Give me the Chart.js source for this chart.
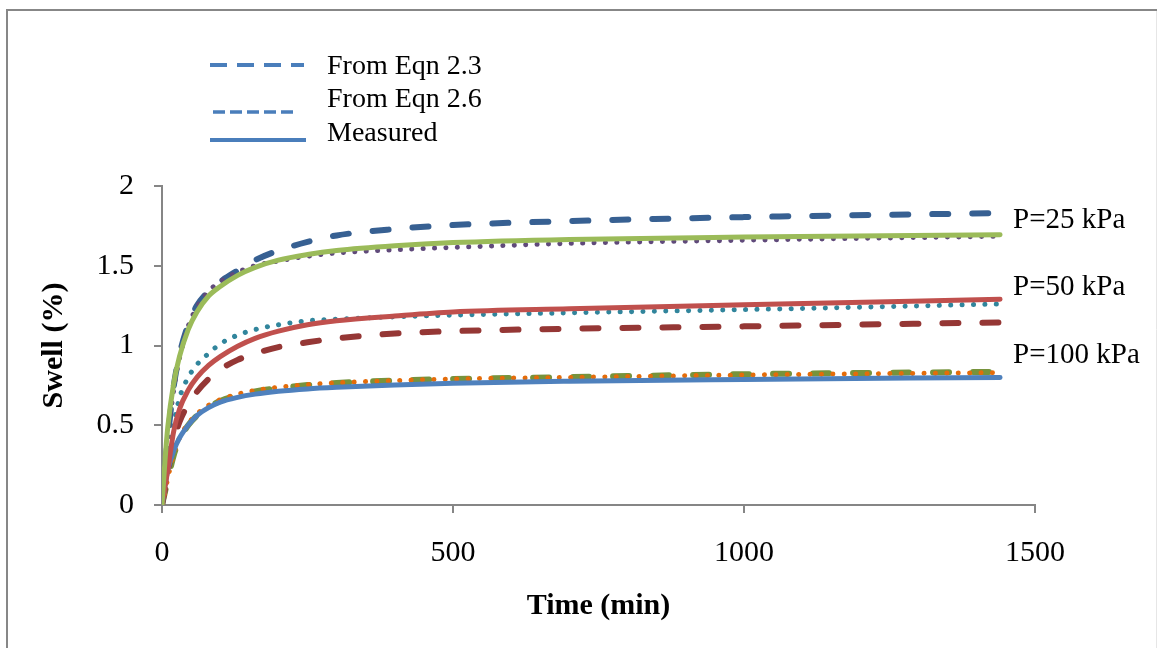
<!DOCTYPE html>
<html>
<head>
<meta charset="utf-8">
<script src="https://cdn.jsdelivr.net/npm/chart.js@4/dist/chart.umd.min.js"></script>
<style>
  html, body { margin: 0; padding: 0; background: #fff; }
  #wrap { position: relative; width: 1157px; height: 648px; }
</style>
</head>
<body>
<div id="wrap"><canvas id="c" width="1157" height="648"></canvas></div>
<script>
// ---- data ----
const times = [0, 5, 10, 20, 30, 45, 60, 80, 100, 130, 160, 200, 250, 300, 400, 500, 700, 1000, 1440];

const eqn23_P25  = [0, 0.22, 0.42, 0.74, 0.94, 1.13, 1.25, 1.34, 1.40, 1.47, 1.535, 1.595, 1.65, 1.69, 1.73, 1.755, 1.78, 1.805, 1.83];
const eqn26_P25  = [0, 0.22, 0.42, 0.72, 0.92, 1.12, 1.24, 1.34, 1.40, 1.46, 1.50, 1.53, 1.56, 1.58, 1.60, 1.615, 1.64, 1.66, 1.685];
const meas_P25   = [0, 0.27, 0.49, 0.76, 0.93, 1.10, 1.21, 1.31, 1.37, 1.44, 1.49, 1.535, 1.57, 1.595, 1.625, 1.645, 1.665, 1.68, 1.695];

const eqn23_P50  = [0, 0.10, 0.20, 0.40, 0.52, 0.63, 0.71, 0.79, 0.85, 0.91, 0.95, 0.99, 1.02, 1.045, 1.075, 1.09, 1.105, 1.12, 1.145];
const eqn26_P50  = [0, 0.12, 0.25, 0.50, 0.67, 0.80, 0.88, 0.95, 1.01, 1.065, 1.10, 1.13, 1.155, 1.165, 1.18, 1.19, 1.205, 1.225, 1.26];
const meas_P50   = [0, 0.11, 0.22, 0.46, 0.60, 0.72, 0.80, 0.875, 0.93, 0.995, 1.045, 1.09, 1.13, 1.155, 1.185, 1.21, 1.23, 1.255, 1.29];

const eqn23_P100 = [0, 0.08, 0.16, 0.31, 0.41, 0.50, 0.56, 0.615, 0.652, 0.688, 0.712, 0.733, 0.752, 0.765, 0.78, 0.79, 0.802, 0.82, 0.835];
const eqn26_P100 = [0, 0.08, 0.17, 0.32, 0.42, 0.51, 0.57, 0.625, 0.66, 0.695, 0.718, 0.738, 0.755, 0.766, 0.78, 0.79, 0.80, 0.815, 0.83];
const meas_P100  = [0, 0.12, 0.22, 0.34, 0.42, 0.50, 0.56, 0.61, 0.645, 0.675, 0.695, 0.713, 0.728, 0.738, 0.753, 0.764, 0.776, 0.787, 0.80];

const xTicks = [0, 500, 1000, 1500];
const yTicks = [0, 0.5, 1, 1.5, 2];
const legendLabels = ['From Eqn 2.3', 'From Eqn 2.6', 'Measured'];
const pressureLabels = ['P=25 kPa', 'P=50 kPa', 'P=100 kPa'];

// ---- build datasets ----
const pts = arr => times.map((t, i) => ({ x: t, y: arr[i] }));
const DASH = [16, 24];
const DOT = [0.1, 11.3];

function ds(label, arr, color, kind, order) {
  const base = {
    label, data: pts(arr), borderColor: color, backgroundColor: color,
    pointRadius: 0, fill: false, cubicInterpolationMode: 'monotone',
    order, borderCapStyle: 'round', borderJoinStyle: 'round'
  };
  if (kind === 'dash') { base.borderDash = DASH; base.borderWidth = 6; }
  else if (kind === 'dot') { base.borderDash = DOT; base.borderWidth = 5; }
  else { base.borderWidth = 5; }
  return base;
}

const datasets = [
  ds('Measured P=25', meas_P25, '#9BBB59', 'solid', 1),
  ds('Measured P=50', meas_P50, '#C0504D', 'solid', 2),
  ds('Measured P=100', meas_P100, '#4F81BD', 'solid', 3),
  ds('Eqn 2.6 P=25', eqn26_P25, '#604A7B', 'dot', 4),
  ds('Eqn 2.6 P=50', eqn26_P50, '#31859C', 'dot', 5),
  ds('Eqn 2.6 P=100', eqn26_P100, '#E46C0A', 'dot', 6),
  ds('Eqn 2.3 P=25', eqn23_P25, '#376092', 'dash', 7),
  ds('Eqn 2.3 P=50', eqn23_P50, '#953735', 'dash', 8),
  ds('Eqn 2.3 P=100', eqn23_P100, '#77933C', 'dash', 9)
];

const SERIF = "'Liberation Serif', 'Times New Roman', serif";

// frame + custom legend + pressure annotations
const decor = {
  id: 'decor',
  beforeDraw(chart) {
    const ctx = chart.ctx;
    ctx.save();
    ctx.fillStyle = '#fff';
    ctx.fillRect(0, 0, chart.width, chart.height);
    ctx.strokeStyle = '#878787';
    ctx.lineWidth = 2;
    ctx.beginPath();
    ctx.moveTo(7, 648); ctx.lineTo(7, 10); ctx.lineTo(1157, 10);
    ctx.stroke();
    ctx.strokeStyle = '#e6e6e6';
    ctx.lineWidth = 1;
    ctx.beginPath();
    ctx.moveTo(1156.5, 11); ctx.lineTo(1156.5, 648);
    ctx.stroke();
    ctx.restore();
  },
  afterDraw(chart) {
    const ctx = chart.ctx;
    ctx.save();
    // legend
    const legColor = '#4A7EBB';
    const rows = [
      { y: 65, x0: 210, x1: 304, dash: [17, 10], w: 4 },
      { y: 112, x0: 213, x1: 297, dash: [12, 5], w: 3.5 },
      { y: 140, x0: 210, x1: 306, dash: [], w: 4 }
    ];
    const baselines = [74, 107, 141];
    rows.forEach((r, i) => {
      ctx.strokeStyle = legColor;
      ctx.lineWidth = r.w;
      ctx.lineCap = 'butt';
      ctx.setLineDash(r.dash);
      ctx.beginPath();
      ctx.moveTo(r.x0, r.y); ctx.lineTo(r.x1, r.y);
      ctx.stroke();
      ctx.setLineDash([]);
      ctx.fillStyle = '#000';
      ctx.font = '28px ' + SERIF;
      ctx.textAlign = 'left';
      ctx.textBaseline = 'alphabetic';
      ctx.fillText(legendLabels[i], 327, baselines[i]);
    });
    // pressure labels
    const xs = chart.scales.x, ys = chart.scales.y;
    const lx = xs.getPixelForValue(1440) + 13;
    const anchorVals = [1.737, 1.317, 0.89];
    ctx.font = '29px ' + SERIF;
    ctx.fillStyle = '#000';
    pressureLabels.forEach((t, i) => {
      ctx.fillText(t, lx, ys.getPixelForValue(anchorVals[i]));
    });
    ctx.restore();
  }
};

new Chart(document.getElementById('c'), {
  type: 'line',
  data: { datasets },
  plugins: [decor],
  options: {
    responsive: false,
    animation: false,
    events: [],
    layout: { padding: { left: 0, top: 186, right: 122, bottom: 0 } },
    plugins: { legend: { display: false }, tooltip: { enabled: false } },
    scales: {
      x: {
        type: 'linear', min: 0, max: 1500,
        afterBuildTicks: s => { s.ticks = xTicks.map(v => ({ value: v })); },
        afterFit: s => { s.height = 143; },
        grid: { drawOnChartArea: false, drawTicks: true, tickLength: 8, color: '#868686', lineWidth: 2 },
        border: { color: '#868686', width: 2 },
        ticks: { color: '#000', font: { family: SERIF, size: 30 }, padding: 22, maxRotation: 0,
                 callback: v => String(v) },
        title: { display: true, text: 'Time (min)', color: '#000',
                 font: { family: SERIF, size: 30, weight: 'bold' }, padding: { top: 0, bottom: 24 } }
      },
      y: {
        type: 'linear', min: 0, max: 2,
        afterBuildTicks: s => { s.ticks = yTicks.map(v => ({ value: v })); },
        afterFit: s => { s.width = 162; },
        grid: { drawOnChartArea: false, drawTicks: true, tickLength: 8, color: '#868686', lineWidth: 2 },
        border: { color: '#868686', width: 2 },
        ticks: { color: '#000', font: { family: SERIF, size: 30 }, padding: 20,
                 callback: v => String(v) },
        title: { display: true, text: 'Swell (%)', color: '#000',
                 font: { family: SERIF, size: 30, weight: 'bold' }, padding: { top: 36, bottom: 0 } }
      }
    }
  }
});
</script>
</body>
</html>
